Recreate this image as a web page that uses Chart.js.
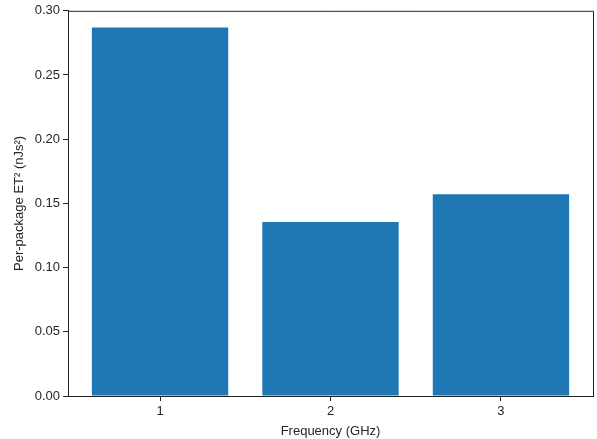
<!DOCTYPE html>
<html lang="en">
<head>
    <meta charset="UTF-8">
    <title>Per-package ET2</title>
    <script src="https://cdn.jsdelivr.net/npm/chart.js"></script>
    <style>
        html, body {
            margin: 0;
            padding: 0;
            background: #fff;
        }
        .wrap {
            width: 597px;
            height: 439px;
        }
    </style>
</head>
<body>
    <div class="wrap">
        <canvas id="barChart" width="597" height="439"></canvas>
    </div>

    <script>
        const frequencies = [1, 2, 3]; // GHz
        const et2Values = [0.287, 0.1355, 0.1572]; // nJs²
        const xTicks = [1, 2, 3];
        const yTicks = [0, 0.05, 0.10, 0.15, 0.20, 0.25, 0.30];

        const axisColor = '#222';
        const textColor = '#262626';
        const font = { family: '"Liberation Sans", Arial, sans-serif', size: 13 };

        // draw the top and right spines like matplotlib
        const boxPlugin = {
            id: 'box',
            afterDraw(chart) {
                const { ctx, chartArea: a } = chart;
                ctx.save();
                ctx.strokeStyle = axisColor;
                ctx.lineWidth = 1;
                ctx.beginPath();
                ctx.moveTo(a.left, a.top + 0.5);
                ctx.lineTo(a.right + 0.5, a.top + 0.5);
                ctx.lineTo(a.right + 0.5, a.bottom);
                ctx.stroke();
                ctx.restore();
            }
        };

        const ctx = document.getElementById('barChart').getContext('2d');
        const chart = new Chart(ctx, {
            type: 'bar',
            data: {
                datasets: [{
                    data: frequencies.map((f, i) => ({ x: f, y: et2Values[i] })),
                    backgroundColor: '#1f77b4',
                    borderWidth: 0,
                    inflateAmount: 0,
                    barPercentage: 0.8,
                    categoryPercentage: 1.0
                }]
            },
            options: {
                responsive: false,
                animation: false,
                layout: {
                    padding: { top: 10, right: 4, left: 12, bottom: 0 }
                },
                plugins: {
                    legend: { display: false },
                    tooltip: { enabled: false }
                },
                scales: {
                    x: {
                        type: 'linear',
                        offset: false,
                        min: 0.46,
                        max: 3.54,
                        afterBuildTicks(axis) {
                            axis.ticks = xTicks.map(v => ({ value: v }));
                        },
                        afterFit(axis) {
                            axis.height = 43;
                        },
                        grid: {
                            offset: false,
                            drawOnChartArea: false,
                            drawTicks: true,
                            tickLength: 5,
                            color: axisColor
                        },
                        border: { display: true, color: axisColor, width: 1 },
                        ticks: {
                            color: textColor,
                            font: font,
                            padding: 3,
                            maxRotation: 0,
                            callback: v => String(v)
                        },
                        title: {
                            display: true,
                            text: 'Frequency (GHz)',
                            color: textColor,
                            font: font,
                            padding: { top: 2, bottom: 0 }
                        }
                    },
                    y: {
                        min: 0,
                        max: 0.30,
                        afterBuildTicks(axis) {
                            axis.ticks = yTicks.map(v => ({ value: v }));
                        },
                        afterFit(axis) {
                            axis.width = 56;
                        },
                        grid: {
                            drawOnChartArea: false,
                            drawTicks: true,
                            tickLength: 5,
                            color: axisColor
                        },
                        border: { display: true, color: axisColor, width: 1 },
                        ticks: {
                            color: textColor,
                            font: font,
                            padding: 3,
                            callback: v => v.toFixed(2)
                        },
                        title: {
                            display: true,
                            text: 'Per-package ET² (nJs²)',
                            color: textColor,
                            font: font,
                            padding: { top: 0, bottom: 0 }
                        }
                    }
                }
            },
            plugins: [boxPlugin]
        });
    </script>
</body>
</html>
